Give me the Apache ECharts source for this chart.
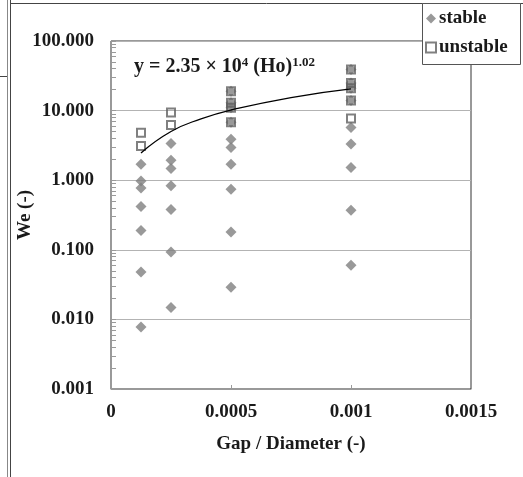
<!DOCTYPE html>
<html>
<head>
<meta charset="utf-8">
<script src="https://cdn.jsdelivr.net/npm/echarts@6/dist/echarts.min.js"></script>
<style>html,body{margin:0;padding:0;background:#fff}#c{width:523px;height:477px}</style>
</head>
<body>
<div id="c"></div>
<script>
// Data
var stableX = [0.000125,0.000125,0.000125,0.000125,0.000125,0.000125,0.000125,
               0.00025,0.00025,0.00025,0.00025,0.00025,0.00025,0.00025,
               0.0005,0.0005,0.0005,0.0005,0.0005,0.0005,0.0005,0.0005,0.0005,0.0005,
               0.001,0.001,0.001,0.001,0.001,0.001,0.001,0.001,0.001];
var stableY = [1.70,0.97,0.77,0.42,0.19,0.048,0.0078,
               3.37,1.94,1.47,0.83,0.38,0.093,0.0148,
               19,13,11,6.8,3.88,2.95,1.70,0.74,0.18,0.029,
               39,25,14,5.7,3.3,1.52,0.37,0.060,21];
var unstableX = [0.000125,0.000125,0.00025,0.00025,0.0005,0.0005,0.0005,0.0005,0.001,0.001,0.001,0.001,0.001];
var unstableY = [4.8,3.1,9.4,6.2,19,13,11,6.8,39,25,21,14,7.7];
var trendX = [0.000125,0.00025,0.000375,0.0005,0.00075,0.001];
var trendY = [2.46,5.0,7.6,10.2,15.4,20.5];
var xTicks = [0,0.0005,0.001,0.0015];
var yMinorTicks = [];
[0.001,0.01,0.1,1,10].forEach(function(d){for(var k=2;k<=9;k++)yMinorTicks.push(+(d*k).toPrecision(3));});

function zip(a,b){return a.map(function(v,i){return [v,b[i]];});}
var FONT = 'Liberation Serif';
var txt = {fontFamily:FONT,fontWeight:'bold',fontSize:19,color:'#1a1a1a'};

var chart = echarts.init(document.getElementById('c'));
chart.setOption({
  animation:false,
  backgroundColor:'#fff',
  grid:{left:111,right:52,top:41,bottom:88,containLabel:false,outerBoundsMode:'none',
    show:true,borderColor:'#333',borderWidth:1,backgroundColor:'transparent'},
  xAxis:{type:'value',min:xTicks[0],max:xTicks[xTicks.length-1],interval:0.0005,
    name:'Gap / Diameter (-)',nameLocation:'middle',nameGap:46,nameMoveOverlap:false,nameTextStyle:Object.assign({},txt),
    axisLine:{lineStyle:{color:'#9a9a9a'}},
    axisTick:{inside:true,length:4,lineStyle:{color:'#9a9a9a'}},
    axisLabel:Object.assign({},txt,{margin:14,formatter:function(v){return String(+v.toFixed(4));}}),
    splitLine:{show:false}},
  yAxis:[{type:'log',logBase:10,min:0.001,max:100,
    name:'We (-)',nameLocation:'middle',nameGap:76,nameRotate:90,nameMoveOverlap:false,nameTextStyle:Object.assign({},txt),
    axisLine:{show:true,lineStyle:{color:'#9a9a9a'}},
    axisTick:{show:true,inside:true,length:5,lineStyle:{color:'#9a9a9a'}},
    axisLabel:Object.assign({},txt,{margin:17,formatter:function(v){return v.toFixed(3);}}),
    splitLine:{show:true,lineStyle:{color:'#b3b3b3',width:1}}},
   {type:'log',logBase:10,min:0.001,max:100,position:'left',
    axisLine:{show:false},axisLabel:{show:false},splitLine:{show:false},
    axisTick:{show:true,inside:true,length:5,customValues:yMinorTicks,lineStyle:{color:'#9a9a9a'}}}],
  legend:{data:['stable','unstable'],orient:'vertical',left:425,top:8,z:20,
    padding:0,itemWidth:10,itemHeight:10,itemGap:8,
    textStyle:Object.assign({},txt,{fontSize:19,lineHeight:21,padding:[0,0,0,-2]})},
  graphic:[
    {type:'line',shape:{x1:7.5,y1:0,x2:7.5,y2:477},style:{stroke:'#888',lineWidth:1}},
    {type:'line',shape:{x1:10.5,y1:0,x2:10.5,y2:477},style:{stroke:'#444',lineWidth:1}},
    {type:'line',shape:{x1:10,y1:3.5,x2:523,y2:3.5},style:{stroke:'#444',lineWidth:1}},
    {type:'line',shape:{x1:0,y1:76.5,x2:7,y2:76.5},style:{stroke:'#444',lineWidth:1}},
    {type:'rect',z:15,shape:{x:422.5,y:3.5,width:98,height:61},style:{fill:'#fff',stroke:'#555',lineWidth:1}},
    {type:'text',left:134,top:56,z:10,style:{
      text:'y = 2.35 × 10{s|4} (Ho){s|1.02}',
      fontFamily:FONT,fontWeight:'bold',fontSize:20,fill:'#1a1a1a',
      rich:{s:{fontFamily:FONT,fontWeight:'bold',fontSize:13,verticalAlign:'top',lineHeight:22}}}}
  ],
  series:[
    {name:'stable',type:'scatter',symbol:'diamond',symbolSize:11,data:zip(stableX,stableY),
      itemStyle:{color:'#7f7f7f'},z:2},
    {name:'unstable',type:'scatter',symbol:'rect',symbolSize:8,data:zip(unstableX,unstableY),
      itemStyle:{color:'rgba(255,255,255,0)',borderColor:'#606060',borderWidth:2},z:3},
    {name:'trend',type:'line',smooth:true,showSymbol:false,symbol:'none',data:zip(trendX,trendY),
      lineStyle:{color:'#000',width:1.3},z:4}
  ]
});
</script>
</body>
</html>
